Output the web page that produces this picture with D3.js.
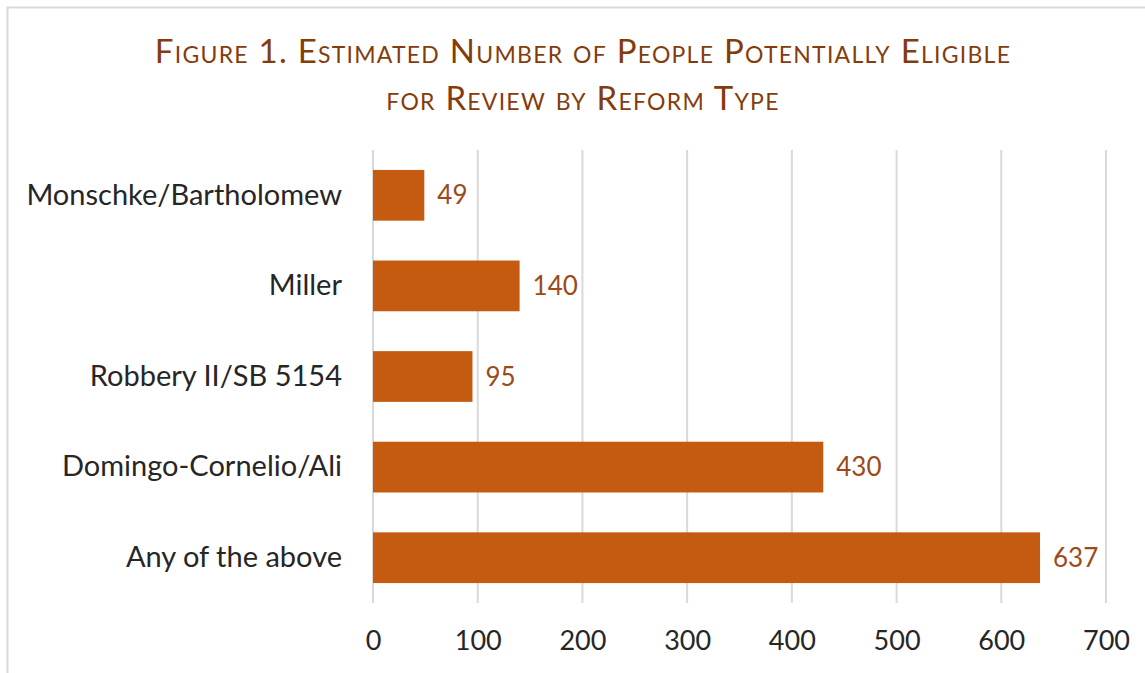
<!DOCTYPE html>
<html>
<head>
<meta charset="utf-8">
<script src="https://cdn.jsdelivr.net/npm/d3@7"></script>
<style>
  body { margin: 0; background: #fff; }
  svg { display: block; font-family: Lato, "Open Sans", sans-serif; }
</style>
</head>
<body>
<div id="chart"></div>
<script>
const categories = ['Monschke/Bartholomew', 'Miller', 'Robbery II/SB 5154', 'Domingo-Cornelio/Ali', 'Any of the above'];
const values = [49, 140, 95, 430, 637];
const xTicks = [0, 100, 200, 300, 400, 500, 600, 700];
const titleLines = ['Figure 1. Estimated Number of People Potentially Eligible', 'for Review by Reform Type'];

const dimension = {
  width: 1145,
  height: 673,
  margin: { top: 150, right: 39, bottom: 70, left: 373 }
};

const data = categories.map((c, i) => ({ category: c, value: values[i] }));

const svg = d3.select('#chart')
  .append('svg')
  .attr('width', dimension.width)
  .attr('height', dimension.height);

// frame (only left and top edges fall inside the picture)
svg.append('rect')
  .attr('x', 7.5).attr('y', 7.5)
  .attr('width', dimension.width + 10).attr('height', dimension.height + 10)
  .attr('fill', 'none')
  .attr('stroke', '#d9d9d9')
  .attr('stroke-width', 2);

svg.selectAll('text.title')
  .data(titleLines)
  .join('text')
  .attr('class', 'title')
  .attr('x', 583)
  .attr('y', (d, i) => 63 + i * 47)
  .attr('text-anchor', 'middle')
  .attr('font-size', 33)
  .attr('letter-spacing', 1.25)
  .attr('font-variant', 'small-caps')
  .attr('fill', '#843c0c')
  .text(d => d);

const innerW = dimension.width - dimension.margin.left - dimension.margin.right;
const innerH = dimension.height - dimension.margin.top - dimension.margin.bottom;

const ctr = svg.append('g')
  .attr('transform', `translate(${dimension.margin.left}, ${dimension.margin.top})`);

const xScale = d3.scaleLinear()
  .domain([0, 700])
  .range([0, innerW]);

const yScale = d3.scaleBand()
  .domain(categories)
  .range([0, innerH])
  .paddingInner(0.44)
  .paddingOuter(0.22);

// gridlines
ctr.selectAll('line.grid')
  .data(xTicks)
  .join('line')
  .attr('class', 'grid')
  .attr('x1', d => xScale(d)).attr('x2', d => xScale(d))
  .attr('y1', 0).attr('y2', innerH)
  .attr('stroke', '#d9d9d9')
  .attr('stroke-width', 2);

const xAxis = ctr.append('g')
  .attr('transform', `translate(0, ${innerH})`)
  .call(d3.axisBottom(xScale).tickValues(xTicks).tickSize(0).tickPadding(28));
xAxis.select('.domain').remove();
xAxis.selectAll('text')
  .attr('font-family', 'Lato, sans-serif')
  .attr('font-size', 27)
  .attr('fill', '#262626');

const yAxis = ctr.append('g')
  .call(d3.axisLeft(yScale).tickSize(0).tickPadding(31));
yAxis.select('.domain').remove();
yAxis.selectAll('text')
  .attr('font-family', 'Lato, sans-serif')
  .attr('font-size', 29)
  .attr('fill', '#262626');

ctr.selectAll('rect.bar')
  .data(data)
  .join('rect')
  .attr('class', 'bar')
  .attr('x', xScale(0))
  .attr('y', d => yScale(d.category))
  .attr('width', d => xScale(d.value) - xScale(0))
  .attr('height', yScale.bandwidth())
  .attr('fill', '#c55a11');

ctr.selectAll('text.val')
  .data(data)
  .join('text')
  .attr('class', 'val')
  .attr('x', d => xScale(d.value) + 13)
  .attr('y', d => yScale(d.category) + yScale.bandwidth() / 2)
  .attr('dy', '0.35em')
  .attr('font-size', 26)
  .attr('fill', '#9c4a18')
  .text(d => d.value);
</script>
</body>
</html>
